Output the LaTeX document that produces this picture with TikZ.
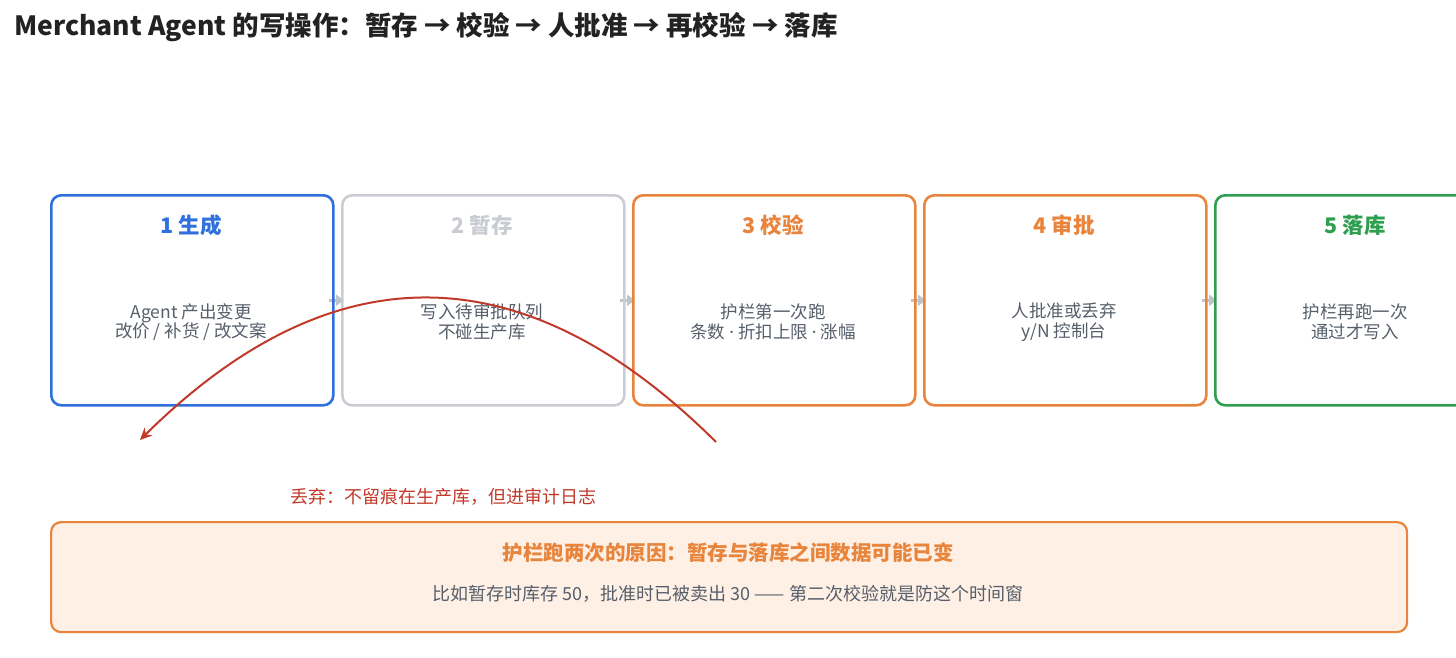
\documentclass[tikz,border=0pt]{standalone}
\usepackage{fontspec}
\setmainfont{Noto Sans CJK SC}
\newfontfamily\dotfont{Noto Sans}
\usetikzlibrary{arrows.meta,backgrounds}
\definecolor{cblue}{HTML}{2F6FDE}
\definecolor{cgray}{HTML}{C9CCD3}
\definecolor{corange}{HTML}{E8843C}
\definecolor{cgreen}{HTML}{2E9E4F}
\definecolor{cred}{HTML}{C0392B}
\definecolor{ctext}{HTML}{565E6A}
\definecolor{ctitle}{HTML}{222222}
\definecolor{cfill}{HTML}{FEF0E5}
\definecolor{carrow}{HTML}{BFC4CC}
\newcommand{\mdot}{{\dotfont ·}}
\tikzset{
  stagebox/.style={draw=#1, line width=2.6pt, rounded corners=10pt, minimum width=282pt, minimum height=210pt, inner sep=0pt, anchor=north west},
  stagetitle/.style={text=#1, font=\fontsize{21.5}{24}\selectfont\bfseries, inner sep=0pt},
  stagebody/.style={text=ctext, font=\fontsize{17.5}{19.5}\selectfont, align=center, inner sep=0pt},
  flow/.style={draw=carrow, line width=3.5pt, -{Triangle[length=8pt,width=11pt]}},
  discard/.style={draw=cred, line width=2pt, -{Stealth[length=12pt,width=11pt]}},
}
\begin{document}
\begin{tikzpicture}[x=1pt,y=-1pt]
\useasboundingbox (0,0) rectangle (1456,658);
\node[anchor=west, text=ctitle, font=\fontsize{26.5}{30}\selectfont\bfseries, inner sep=0pt] (title) at (14,27) {Merchant Agent 的写操作：暂存 → 校验 → 人批准 → 再校验 → 落库};

\node[stagebox=cblue] (b1) at (50,194) {};
\node[stagebox=cgray] (b2) at (341,194) {};
\node[stagebox=corange] (b3) at (632,194) {};
\node[stagebox=corange] (b4) at (923,194) {};
\node[stagebox=cgreen] (b5) at (1214,194) {};

\begin{scope}[on background layer]
\draw[flow] ([xshift=-6pt]b1.east) -- ([xshift=3pt]b2.west);
\draw[flow] ([xshift=-6pt]b2.east) -- ([xshift=3pt]b3.west);
\draw[flow] ([xshift=-6pt]b3.east) -- ([xshift=3pt]b4.west);
\draw[flow] ([xshift=-6pt]b4.east) -- ([xshift=3pt]b5.west);
\end{scope}

\node[stagetitle=cblue] (t1) at (191,225) {1 生成};
\node[stagetitle=cgray] (t2) at (482,225) {2 暂存};
\node[stagetitle=corange] (t3) at (773,225) {3 校验};
\node[stagetitle=corange] (t4) at (1064,225) {4 审批};
\node[stagetitle=cgreen] (t5) at (1355,225) {5 落库};

\node[stagebody] (d1) at (191,322) {Agent 产出变更\\改价 / 补货 / 改文案};
\node[stagebody] (d2) at (482,322) {写入待审批队列\\不碰生产库};
\node[stagebody] (d3) at (773,322) {护栏第一次跑\\条数 \mdot{} 折扣上限 \mdot{} 涨幅};
\node[stagebody] (d4) at (1064,322) {人批准或丢弃\\y/N 控制台};
\node[stagebody] (d5) at (1355,322) {护栏再跑一次\\通过才写入};

\coordinate (ds) at (716,442);
\coordinate (de) at (140,440);
\draw[discard] (ds) .. controls (524,251) and (332,250) .. (de);
\node[text=cred, font=\fontsize{18}{21}\selectfont, inner sep=0pt] (dl) at (443,497) {丢弃：不留痕在生产库，但进审计日志};

\node[draw=corange, fill=cfill, line width=2.2pt, rounded corners=10pt, minimum width=1356pt, minimum height=110pt, anchor=north west, inner sep=0pt] (note) at (50,521) {};
\node[text=corange, font=\fontsize{20.5}{24}\selectfont\bfseries, inner sep=0pt] (nt) at (728,553) {护栏跑两次的原因：暂存与落库之间数据可能已变};
\node[text=ctext, font=\fontsize{18}{21}\selectfont, inner sep=0pt] (nb) at (728,594) {比如暂存时库存 50，批准时已被卖出 30 —— 第二次校验就是防这个时间窗};
\end{tikzpicture}
\end{document}
